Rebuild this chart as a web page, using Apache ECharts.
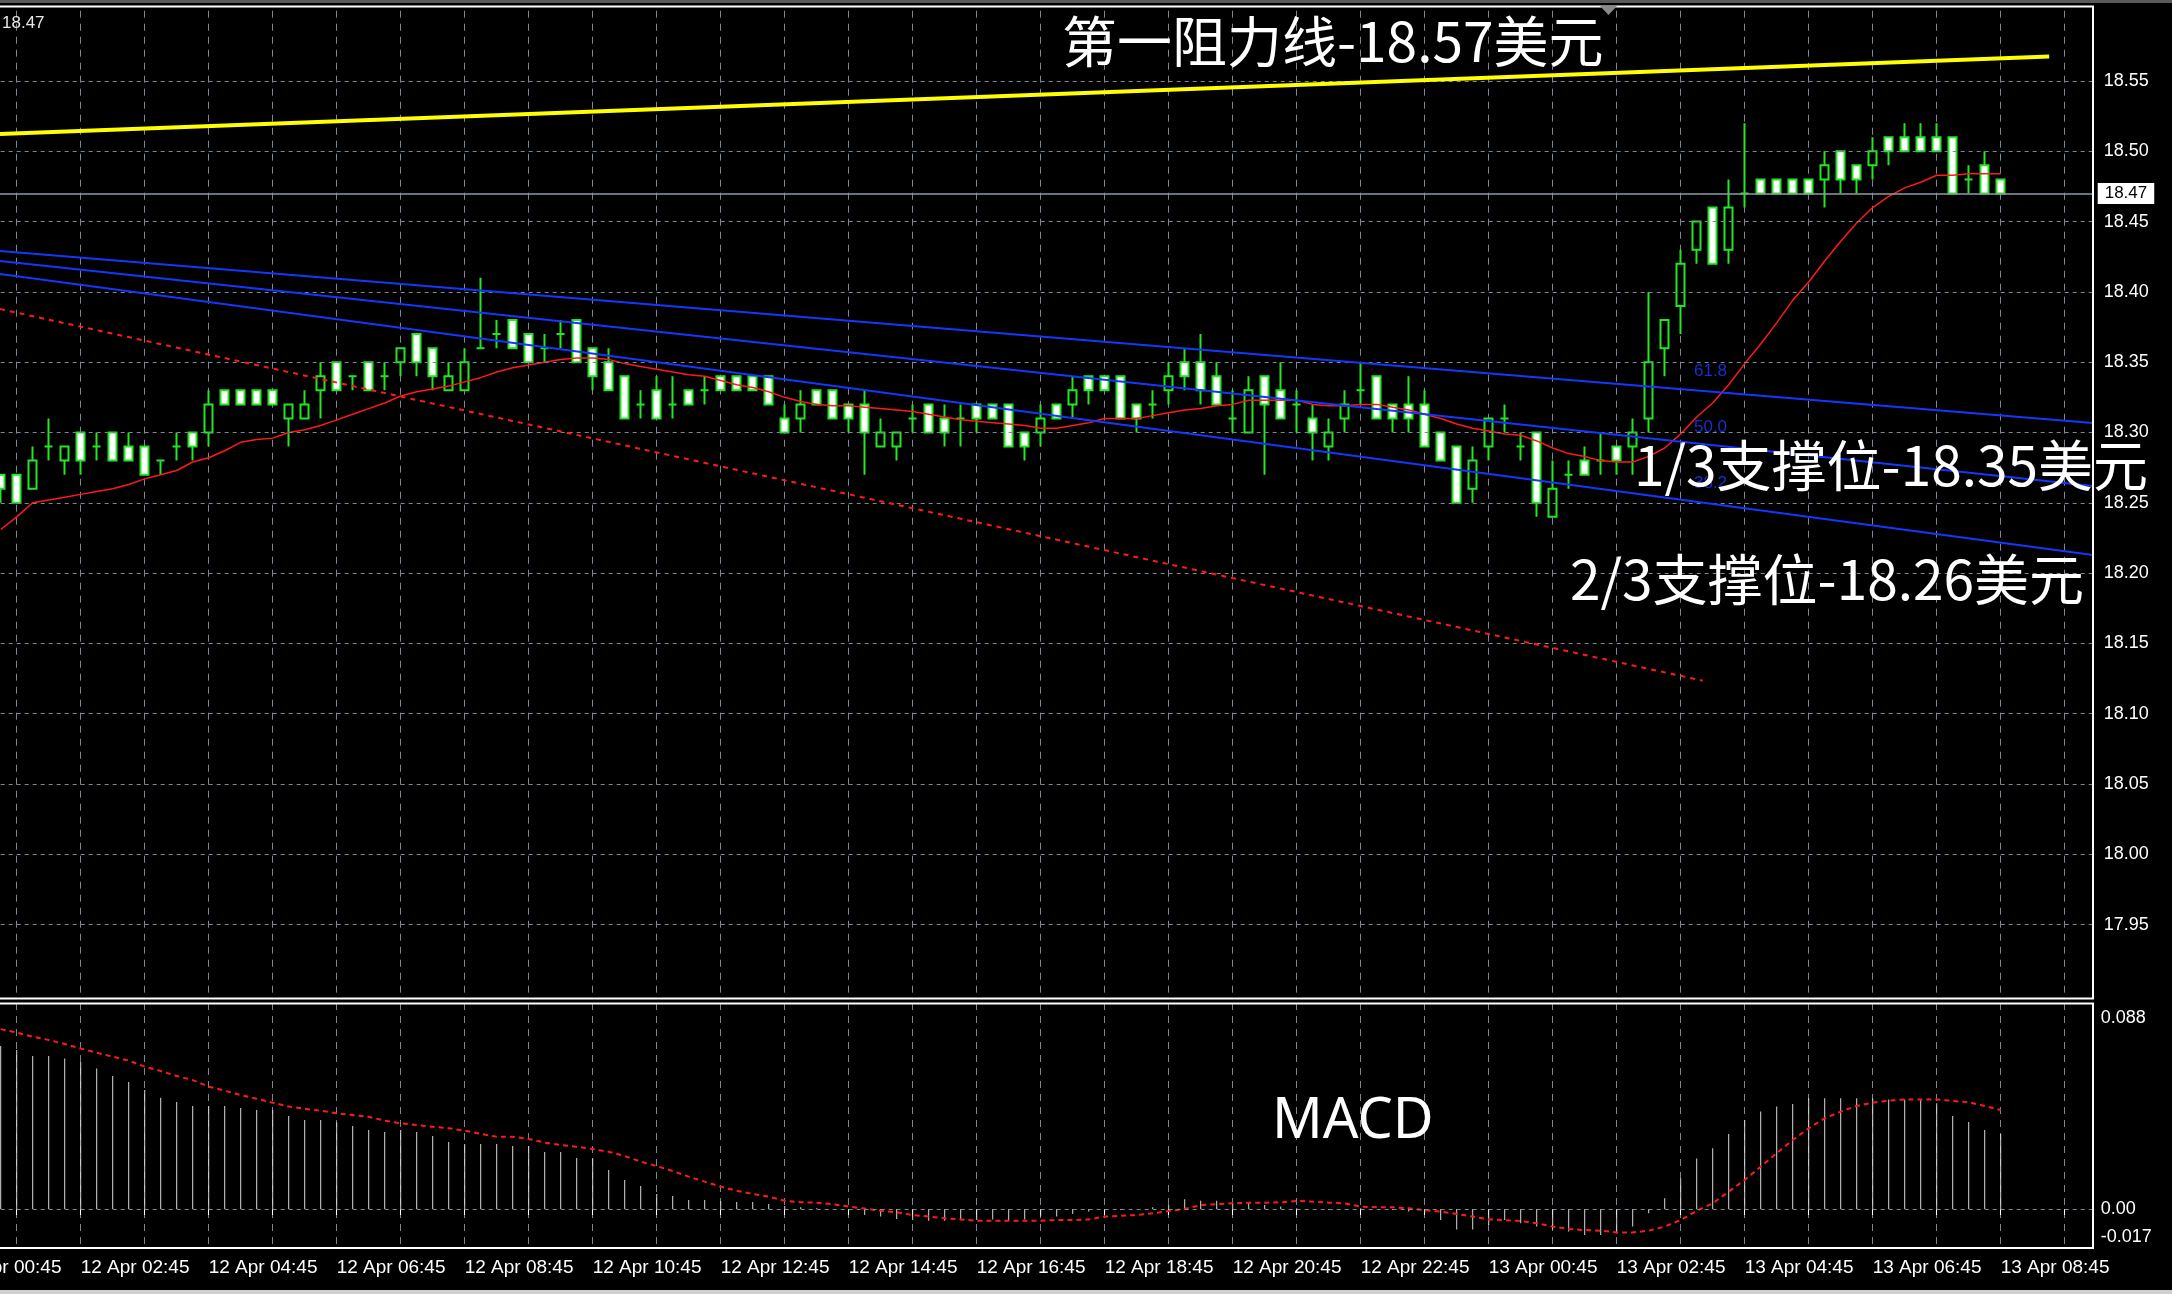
<!DOCTYPE html>
<html><head><meta charset="utf-8">
<script src="https://cdn.jsdelivr.net/npm/echarts@6/dist/echarts.min.js"></script>
<style>html,body{margin:0;padding:0;background:#000;}#c{width:2172px;height:1294px;}</style>
</head><body><div id="c"></div>
<script>
// ---------------- DATA (M15 bars, index 0 = 12 Apr 02:45) ----------------
const firstBar = -5;   // first visible bar = 12 Apr 01:30
const opens = [18.27,18.27,18.26,18.29,18.28,
 18.30,18.29,18.30,18.29,18.29,18.28,18.29,18.30,18.30,18.33,
 18.33,18.33,18.33,18.31,18.31,18.33,18.35,18.34,18.35,18.34,
 18.35,18.37,18.36,18.33,18.33,18.36,18.37,18.38,18.37,18.36,
 18.37,18.38,18.36,18.35,18.34,18.32,18.33,18.32,18.33,18.33,
 18.34,18.34,18.34,18.34,18.31,18.31,18.33,18.33,18.32,18.32,
 18.29,18.29,18.31,18.32,18.31,18.31,18.32,18.32,18.32,18.30,
 18.30,18.32,18.32,18.34,18.34,18.34,18.32,18.32,18.33,18.35,
 18.35,18.34,18.31,18.30,18.34,18.33,18.32,18.31,18.29,18.31,
 18.33,18.34,18.32,18.32,18.32,18.30,18.29,18.26,18.29,18.31,
 18.29,18.30,18.24,18.27,18.28,18.28,18.29,18.29,18.31,18.36,
 18.39,18.43,18.46,18.43,18.47,18.48,18.48,18.48,18.48,18.48,
 18.50,18.49,18.49,18.51,18.51,18.51,18.51,18.51,18.48,18.49,
 18.48];
const closes = [18.26,18.25,18.28,18.29,18.29,
 18.28,18.29,18.28,18.28,18.27,18.28,18.29,18.29,18.32,18.32,
 18.32,18.32,18.32,18.32,18.32,18.34,18.33,18.34,18.33,18.34,
 18.36,18.35,18.34,18.34,18.35,18.36,18.37,18.36,18.35,18.36,
 18.37,18.35,18.34,18.33,18.31,18.32,18.31,18.32,18.32,18.33,
 18.33,18.33,18.33,18.32,18.30,18.32,18.32,18.31,18.31,18.30,
 18.30,18.30,18.31,18.30,18.30,18.31,18.31,18.31,18.29,18.29,
 18.31,18.31,18.33,18.33,18.33,18.31,18.31,18.32,18.34,18.34,
 18.33,18.32,18.31,18.33,18.32,18.31,18.32,18.30,18.30,18.32,
 18.33,18.31,18.31,18.31,18.29,18.28,18.25,18.28,18.31,18.31,
 18.29,18.25,18.26,18.27,18.27,18.28,18.28,18.30,18.35,18.38,
 18.42,18.45,18.42,18.46,18.47,18.47,18.47,18.47,18.47,18.49,
 18.48,18.48,18.50,18.50,18.50,18.50,18.50,18.47,18.48,18.47,
 18.47];
const lows = [18.25,18.25,18.26,18.28,18.27,
 18.27,18.28,18.28,18.28,18.27,18.27,18.28,18.28,18.29,18.32,
 18.32,18.32,18.32,18.29,18.31,18.31,18.33,18.33,18.33,18.33,
 18.34,18.34,18.33,18.33,18.33,18.36,18.36,18.36,18.35,18.35,
 18.36,18.35,18.33,18.33,18.31,18.31,18.31,18.31,18.32,18.32,
 18.33,18.33,18.33,18.32,18.30,18.30,18.32,18.31,18.30,18.27,
 18.29,18.28,18.30,18.30,18.29,18.29,18.30,18.31,18.29,18.28,
 18.29,18.31,18.31,18.32,18.33,18.31,18.30,18.31,18.32,18.33,
 18.32,18.32,18.30,18.30,18.27,18.31,18.30,18.28,18.28,18.30,
 18.32,18.31,18.30,18.30,18.29,18.28,18.25,18.25,18.28,18.30,
 18.28,18.24,18.24,18.26,18.27,18.27,18.27,18.27,18.30,18.34,
 18.37,18.42,18.42,18.42,18.46,18.47,18.47,18.47,18.47,18.46,
 18.47,18.47,18.48,18.49,18.50,18.50,18.50,18.47,18.47,18.47,
 18.47];
const highs = [18.27,18.27,18.29,18.31,18.29,
 18.30,18.30,18.30,18.30,18.29,18.28,18.30,18.30,18.33,18.33,
 18.33,18.33,18.33,18.32,18.33,18.35,18.35,18.34,18.35,18.35,
 18.36,18.37,18.36,18.35,18.36,18.41,18.38,18.38,18.37,18.37,
 18.38,18.38,18.36,18.36,18.34,18.33,18.34,18.34,18.33,18.34,
 18.34,18.34,18.34,18.34,18.32,18.33,18.33,18.33,18.32,18.33,
 18.31,18.30,18.32,18.32,18.32,18.32,18.32,18.32,18.32,18.30,
 18.32,18.32,18.34,18.34,18.34,18.34,18.32,18.33,18.35,18.36,
 18.37,18.35,18.33,18.34,18.34,18.35,18.33,18.32,18.31,18.33,
 18.35,18.34,18.32,18.34,18.33,18.30,18.29,18.29,18.31,18.32,
 18.30,18.30,18.28,18.28,18.29,18.30,18.29,18.31,18.40,18.38,
 18.43,18.45,18.46,18.48,18.52,18.48,18.48,18.48,18.48,18.50,
 18.50,18.49,18.51,18.51,18.52,18.52,18.52,18.51,18.49,18.50,
 18.48];
const maValues = [18.231,18.240,18.250,18.252,18.254,
 18.256,18.258,18.260,18.263,18.267,18.270,18.273,18.279,18.282,18.287,
 18.293,18.295,18.296,18.300,18.302,18.305,18.309,18.313,18.317,18.321,
 18.326,18.329,18.331,18.333,18.336,18.339,18.343,18.346,18.348,18.350,
 18.352,18.353,18.353,18.352,18.349,18.347,18.345,18.343,18.341,18.340,
 18.337,18.334,18.332,18.329,18.325,18.322,18.320,18.319,18.319,18.318,
 18.317,18.316,18.315,18.313,18.311,18.309,18.308,18.307,18.306,18.305,
 18.303,18.303,18.305,18.307,18.310,18.310,18.310,18.312,18.314,18.316,
 18.317,18.319,18.320,18.323,18.323,18.323,18.323,18.320,18.319,18.319,
 18.320,18.320,18.318,18.316,18.313,18.310,18.306,18.303,18.301,18.299,
 18.298,18.294,18.289,18.285,18.283,18.280,18.279,18.279,18.283,18.289,
 18.299,18.311,18.321,18.334,18.349,18.363,18.378,18.394,18.407,18.422,
 18.436,18.449,18.460,18.468,18.474,18.478,18.483,18.483,18.484,18.484,
 18.484];
const macdHist = [0.0751,0.0733,0.0705,0.0705,0.0694,
 0.0677,0.0648,0.0613,0.0585,0.0548,0.0513,0.0493,0.0475,0.0475,0.0475,
 0.0465,0.0456,0.0456,0.0429,0.0410,0.0410,0.0399,0.0382,0.0364,0.0355,
 0.0364,0.0355,0.0336,0.0309,0.0300,0.0300,0.0300,0.0290,0.0290,0.0263,
 0.0263,0.0235,0.0235,0.0180,0.0134,0.0106,0.0069,0.0060,0.0041,0.0041,
 0.0037,0.0032,0.0032,0.0023,0.0014,0.0008,0.0003,0.0000,-0.0008,-0.0028,
 -0.0035,-0.0046,-0.0051,-0.0054,-0.0054,-0.0051,-0.0051,-0.0048,-0.0051,-0.0048,
 -0.0035,-0.0035,-0.0023,-0.0012,-0.0008,-0.0005,0.0000,0.0008,0.0018,0.0045,
 0.0038,0.0038,0.0029,0.0026,0.0018,0.0011,0.0003,0.0000,-0.0005,0.0000,
 0.0003,0.0000,-0.0005,-0.0012,-0.0020,-0.0051,-0.0094,-0.0094,-0.0074,-0.0051,
 -0.0066,-0.0081,-0.0094,-0.0104,-0.0120,-0.0120,-0.0112,-0.0081,-0.0020,0.0049,
 0.0141,0.0233,0.0280,0.0346,0.0410,0.0449,0.0472,0.0484,0.0510,0.0510,
 0.0510,0.0510,0.0510,0.0505,0.0505,0.0502,0.0487,0.0429,0.0401,0.0364,
 0.0346];
const macdSignal = [0.0829,0.0813,0.0794,0.0779,0.0760,
 0.0740,0.0720,0.0702,0.0684,0.0656,0.0636,0.0613,0.0594,0.0564,0.0545,
 0.0525,0.0508,0.0490,0.0472,0.0462,0.0453,0.0441,0.0433,0.0425,0.0407,
 0.0395,0.0387,0.0379,0.0372,0.0361,0.0346,0.0333,0.0333,0.0323,0.0306,
 0.0295,0.0287,0.0276,0.0264,0.0244,0.0218,0.0198,0.0175,0.0149,0.0126,
 0.0103,0.0084,0.0069,0.0057,0.0038,0.0031,0.0029,0.0022,0.0011,0.0002,
 -0.0008,-0.0015,-0.0028,-0.0035,-0.0043,-0.0048,-0.0054,-0.0054,-0.0054,-0.0054,
 -0.0054,-0.0051,-0.0051,-0.0048,-0.0035,-0.0031,-0.0028,-0.0020,-0.0009,0.0000,
 0.0018,0.0022,0.0026,0.0029,0.0029,0.0031,0.0037,0.0034,0.0029,0.0026,
 0.0011,0.0008,0.0008,0.0003,-0.0005,-0.0012,-0.0023,-0.0035,-0.0048,-0.0051,
 -0.0055,-0.0066,-0.0081,-0.0092,-0.0097,-0.0100,-0.0108,-0.0108,-0.0100,-0.0081,
 -0.0051,-0.0008,0.0026,0.0080,0.0134,0.0195,0.0257,0.0318,0.0372,0.0418,
 0.0449,0.0475,0.0490,0.0499,0.0505,0.0505,0.0505,0.0498,0.0492,0.0475,
 0.0456];
// drawn objects: [barIndex, price] end points
const resistanceLine = [[-5.044, 18.5123], [123.03, 18.5675]];
const fanLines = [
  [[-5.044, 18.4291], [125.75, 18.3068]],
  [[-5.044, 18.4220], [125.75, 18.2620]],
  [[-5.044, 18.4127], [125.75, 18.2129]]
];
const trendLine = [[-5.044, 18.3878], [101.37, 18.1235]];
const fibNames = ['61.8', '50.0', '38.2'];
const fibLabelPrices = [18.3434, 18.3039, 18.2637];
const fibLabelBar = 100.83;
const currentPrice = 18.47;
const priceTicks = [17.95,18.00,18.05,18.10,18.15,18.20,18.25,18.30,18.35,18.40,18.45,18.50,18.55];
const macdTicks = [0.088, 0, -0.017];
const timeLabels = ['12 Apr 00:45','12 Apr 02:45','12 Apr 04:45','12 Apr 06:45','12 Apr 08:45',
  '12 Apr 10:45','12 Apr 12:45','12 Apr 14:45','12 Apr 16:45','12 Apr 18:45','12 Apr 20:45',
  '12 Apr 22:45','13 Apr 00:45','13 Apr 02:45','13 Apr 04:45','13 Apr 06:45','13 Apr 08:45'];
const texts = {
  r1: '第一阻力线-18.57美元',
  s1: '1/3支撑位-18.35美元',
  s2: '2/3支撑位-18.26美元',
  macd: 'MACD'
};

// ---------------- CHART ----------------
const FONT = '"Liberation Sans", Arial, sans-serif';
const CJK = '"Noto Sans CJK SC", sans-serif';
const GRIDC = '#7a8796';
const GREEN = '#22e622';
const X_MIN = -8, X_MAX = 125.75;   // bar units; label ticks every 8 bars from X_MIN
const chart = echarts.init(document.getElementById('c'), null, {width: 2172, height: 1294});

const candles = opens.map((o, i) => [i + firstBar, o, closes[i], lows[i], highs[i]]);
const withX = arr => arr.map((v, i) => [i + firstBar, v]);

function xAxisBase(gi) {
  return {
    type: 'value', gridIndex: gi, min: X_MIN, max: X_MAX, interval: 4,
    axisLine: {show: false}, axisTick: {show: false}, axisLabel: {show: false},
    splitLine: {show: true, lineStyle: {color: GRIDC, width: 1, type: [7, 6]}}
  };
}
const xMacd = xAxisBase(1);
xMacd.axisTick = {show: true, length: 6, lineStyle: {color: '#ffffff', width: 1}};
xMacd.axisLabel = {
  show: true, color: '#ffffff', fontFamily: FONT, fontSize: 19, align: 'left', margin: 10,
  showMinLabel: true, showMaxLabel: true, hideOverlap: false,
  formatter: v => { const i = (v - X_MIN) / 8; return (Number.isInteger(i) && timeLabels[i]) ? timeLabels[i] : ''; }
};

const option = {
  backgroundColor: '#000000',
  animation: false,
  grid: [
    {left: -47.3, top: 10.7, width: (X_MAX - X_MIN) * 16, height: 984.2, outerBoundsMode: 'none', containLabel: false},
    {left: -47.3, top: 1003, width: (X_MAX - X_MIN) * 16, height: 245, outerBoundsMode: 'none', containLabel: false}
  ],
  xAxis: [xAxisBase(0), xMacd],
  yAxis: [
    {type: 'value', gridIndex: 0, position: 'right', min: 17.90, max: 18.60, interval: 0.05,
     splitLine: {show: false}, axisLine: {show: false}, axisTick: {show: false},
     axisLabel: {color: '#ffffff', fontFamily: FONT, fontSize: 18, margin: 11,
       showMinLabel: false, showMaxLabel: false, formatter: v => v.toFixed(2)}},
    {type: 'value', gridIndex: 1, position: 'right', min: -0.01797, max: 0.09493,
     splitLine: {show: false}, axisLine: {show: false}, axisTick: {show: false},
     axisLabel: {color: '#ffffff', fontFamily: FONT, fontSize: 18, margin: 8, customValues: macdTicks,
       formatter: v => (v === 0 ? '0.00' : (v < 0 ? '{lift|' + v.toFixed(3) + '}' : v.toFixed(3))),
       rich: {lift: {color: '#ffffff', fontFamily: FONT, fontSize: 18, padding: [0, 0, 18, 0]}}}}
  ],
  series: [
    { // price grid lines + current price line
      type: 'line', xAxisIndex: 0, yAxisIndex: 0, data: [], z: 1, silent: true,
      markLine: {
        silent: true, symbol: ['none', 'none'], animation: false,
        label: {show: false},
        lineStyle: {color: GRIDC, width: 1, type: [4, 4]},
        data: priceTicks.map(v => ({yAxis: v})).concat([{
          yAxis: currentPrice,
          lineStyle: {color: '#8f9aa6', width: 1.5, type: 'solid'},
          label: {show: true, position: 'end', distance: 5, formatter: currentPrice.toFixed(2),
            color: '#000000', backgroundColor: '#ffffff', padding: [2, 7, 2, 7],
            fontFamily: FONT, fontSize: 17}
        }])
      }
    },
    {
      type: 'candlestick', xAxisIndex: 0, yAxisIndex: 0, data: candles,
      encode: {x: 0, y: [1, 2, 3, 4]}, barWidth: 8, z: 3,
      itemStyle: {color: '#000000', color0: '#ffffff', borderColor: GREEN, borderColor0: GREEN,
        borderColorDoji: GREEN, borderWidth: 2}
    },
    {type: 'line', xAxisIndex: 0, yAxisIndex: 0, data: withX(maValues), showSymbol: false, z: 4,
     lineStyle: {color: '#ff1a1a', width: 1.5}},
    ...fanLines.map(l => ({type: 'line', xAxisIndex: 0, yAxisIndex: 0, data: l, showSymbol: false, z: 5,
      lineStyle: {color: '#1437ff', width: 2}})),
    {type: 'line', xAxisIndex: 0, yAxisIndex: 0, data: trendLine, showSymbol: false, z: 5,
     lineStyle: {color: '#ff1a1a', width: 2, type: [5, 5]}},
    {type: 'line', xAxisIndex: 0, yAxisIndex: 0, data: resistanceLine, showSymbol: false, z: 6,
     lineStyle: {color: '#ffff00', width: 4}},
    {type: 'scatter', xAxisIndex: 0, yAxisIndex: 0, symbolSize: 0, z: 7,
     data: fibLabelPrices.map((p, i) => [fibLabelBar, p, fibNames[i]]),
     label: {show: true, position: 'right', distance: 0, color: '#1a3cff', fontFamily: FONT, fontSize: 17,
       formatter: p => p.value[2]}},
    {type: 'bar', xAxisIndex: 1, yAxisIndex: 1, data: withX(macdHist), barWidth: 1, z: 2,
     itemStyle: {color: '#dadada'},
     markLine: {silent: true, symbol: ['none', 'none'], label: {show: false},
       lineStyle: {color: GRIDC, width: 1, type: [4, 4]}, data: [{yAxis: 0}]}},
    {type: 'line', xAxisIndex: 1, yAxisIndex: 1, data: withX(macdSignal), showSymbol: false, z: 3,
     lineStyle: {color: '#ff1a1a', width: 2, type: [5, 4]}}
  ],
  graphic: [
    {type: 'rect', z: 50, shape: {x: 0, y: 0, width: 2172, height: 3}, style: {fill: '#5a5a5a'}},
    {type: 'rect', z: 50, shape: {x: 0, y: 1290, width: 2172, height: 4}, style: {fill: '#cfcfcf'}},
    {type: 'polyline', z: 50, shape: {points: [[0, 6.5], [2093, 6.5], [2093, 998.5], [0, 998.5]]},
     style: {stroke: '#ffffff', lineWidth: 2, fill: null}},
    {type: 'polyline', z: 50, shape: {points: [[0, 1003.5], [2093, 1003.5], [2093, 1248], [0, 1248]]},
     style: {stroke: '#ffffff', lineWidth: 2, fill: null}},
    {type: 'polygon', z: 51, shape: {points: [[1600, 6], [1617, 6], [1608.5, 15]]}, style: {fill: '#8a8a8a'}},
    {type: 'text', z: 60, x: 2, y: 23, style: {text: currentPrice.toFixed(2), fill: '#e6e6e6', font: '17px ' + FONT, verticalAlign: 'middle'}},
    {type: 'text', z: 60, x: 1062, y: 41, style: {text: texts.r1, fill: '#ffffff', font: '55px ' + CJK, verticalAlign: 'middle'}},
    {type: 'text', z: 60, x: 1634, y: 465, style: {text: texts.s1, fill: '#ffffff', font: '55px ' + CJK, verticalAlign: 'middle'}},
    {type: 'text', z: 60, x: 1570, y: 579, style: {text: texts.s2, fill: '#ffffff', font: '55px ' + CJK, verticalAlign: 'middle'}},
    {type: 'text', z: 60, x: 1272, y: 1122, style: {text: texts.macd, fill: '#ffffff', font: '56px "Noto Sans", sans-serif', verticalAlign: 'middle'}}
  ]
};
chart.setOption(option);
</script></body></html>
